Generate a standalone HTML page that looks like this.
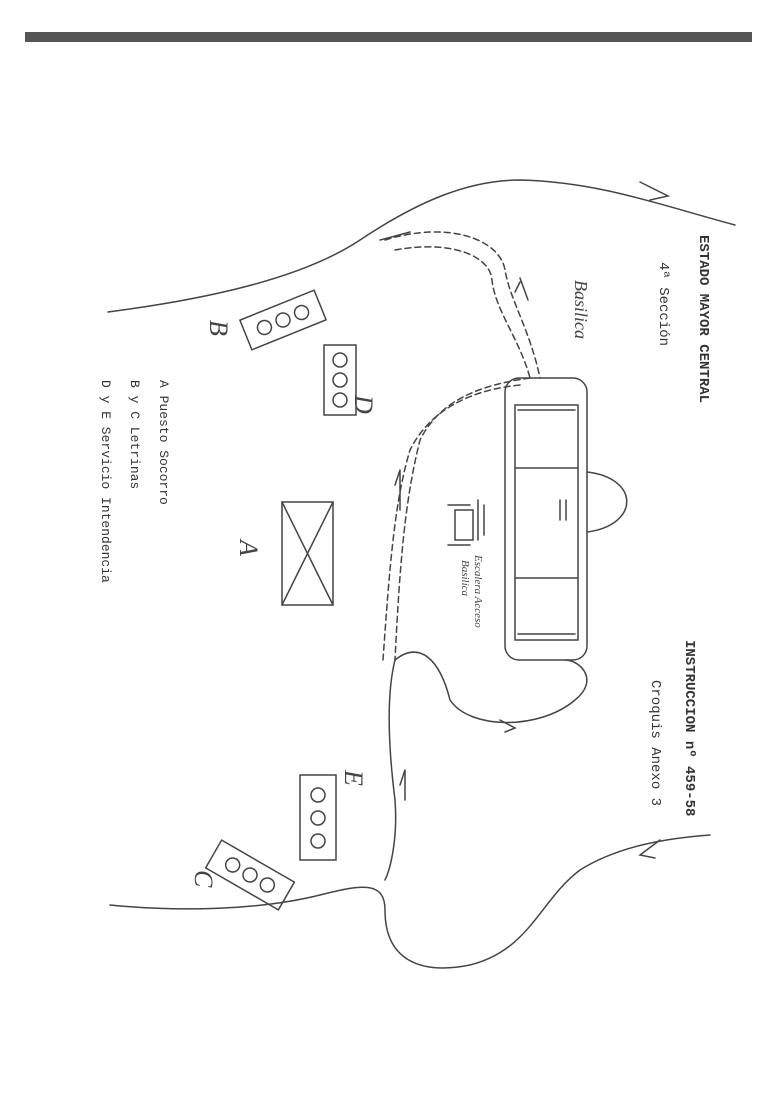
<!DOCTYPE html>
<html><head><meta charset="utf-8"><style>
html,body{margin:0;padding:0;background:#fff;}
body{width:768px;height:1093px;overflow:hidden;position:relative;}
.t{font-family:"Liberation Mono",monospace;fill:#333;}
</style></head><body>
<svg width="768" height="1093" viewBox="0 0 768 1093" xmlns="http://www.w3.org/2000/svg">
<rect x="0" y="0" width="768" height="1093" fill="#fff"/>
<rect x="25" y="32" width="727" height="10" fill="#555"/>
<g fill="none" stroke="#444" stroke-width="1.5" stroke-linecap="round">
<!-- top terrain -->
<path d="M108,312 C200,300 300,280 360,240 C420,200 470,180 520,180 C600,182 660,205 735,225"/>
<path d="M640,182 L668,196 L650,200"/>
<path d="M380,240 L410,232"/>
<!-- bottom terrain -->
<path d="M110,905 C180,912 260,910 320,895 C360,885 385,880 385,910 C385,960 420,975 470,965 C530,950 540,900 580,870 C620,845 670,838 710,835"/>
<path d="M660,840 L640,855 L655,858"/>
<!-- road dashed -->
<path d="M385,240 C450,220 500,240 505,270 C510,300 530,330 540,378" stroke-dasharray="6,4"/>
<path d="M395,250 C450,240 490,255 492,280 C495,310 520,340 530,378" stroke-dasharray="6,4"/>
<path d="M530,378 C480,385 440,400 420,440 C405,500 400,560 395,660" stroke-dasharray="6,4"/>
<path d="M520,385 C470,390 430,410 410,450 C395,500 390,560 383,660" stroke-dasharray="6,4"/>
<path d="M520,278 L528,300 M520,282 L515,292"/>
<path d="M400,470 L400,510 M400,470 L395,485"/>
<!-- loop under basilica -->
<path d="M395,660 C420,640 440,660 450,700 C470,730 540,730 575,700 C600,680 580,660 565,660"/>
<path d="M395,660 C385,700 390,760 395,800 C398,840 390,870 385,880"/>
<path d="M405,770 L405,800 M405,770 L400,785"/>
<path d="M500,720 L515,728 L505,732"/>
<!-- basilica -->
<rect x="505" y="378" width="82" height="282" rx="14"/>
<rect x="515" y="405" width="63" height="235"/>
<path d="M515,468 L578,468 M515,578 L578,578 M518,410 L575,410 M518,634 L575,634"/>
<path d="M587,472 C640,478 640,525 587,532"/>
<path d="M560,500 L560,520 M566,500 L566,520"/>
<!-- steps -->
<rect x="455" y="510" width="18" height="30"/>
<path d="M448,505 L470,505 M448,545 L470,545 M478,500 L478,540 M484,505 L484,535"/>
<!-- B -->
<g transform="translate(283,320) rotate(-22)"><rect x="-40" y="-16" width="80" height="32"/>
<circle cx="-20" cy="0" r="7"/><circle cx="0" cy="0" r="7"/><circle cx="20" cy="0" r="7"/></g>
<!-- D -->
<rect x="324" y="345" width="32" height="70"/>
<circle cx="340" cy="360" r="7"/><circle cx="340" cy="380" r="7"/><circle cx="340" cy="400" r="7"/>
<!-- A -->
<rect x="282" y="502" width="51" height="103"/>
<path d="M282,502 L333,605 M333,502 L282,605"/>
<!-- E -->
<rect x="300" y="775" width="36" height="85"/>
<circle cx="318" cy="795" r="7"/><circle cx="318" cy="818" r="7"/><circle cx="318" cy="841" r="7"/>
<!-- C -->
<g transform="translate(250,875) rotate(30)"><rect x="-42" y="-16" width="84" height="32"/>
<circle cx="-20" cy="0" r="7"/><circle cx="0" cy="0" r="7"/><circle cx="20" cy="0" r="7"/></g>
</g>
<!-- handwritten labels -->
<g font-family="Liberation Serif,serif" font-style="italic" fill="#444">
<text transform="translate(210,320) rotate(90)" font-size="26">B</text>
<text transform="translate(355,395) rotate(90)" font-size="26">D</text>
<text transform="translate(240,540) rotate(90)" font-size="26">A</text>
<text transform="translate(345,770) rotate(90)" font-size="26">E</text>
<text transform="translate(195,870) rotate(90)" font-size="26">C</text>
<text transform="translate(575,280) rotate(90)" font-size="18">Basilica</text>
<text transform="translate(475,555) rotate(90)" font-size="11">Escalera Acceso</text>
<text transform="translate(462,560) rotate(90)" font-size="11">Basilica</text>
</g>
<g class="t">
<text transform="translate(700,235) rotate(90)" font-size="14" font-weight="bold">ESTADO MAYOR CENTRAL</text>
<text transform="translate(660,262) rotate(90)" font-size="14">4ª Sección</text>
<text transform="translate(686,640) rotate(90)" font-size="14" font-weight="bold">INSTRUCCION  nº 459-58</text>
<text transform="translate(652,680) rotate(90)" font-size="14">Croquis Anexo  3</text>
<text transform="translate(160,380) rotate(90)" font-size="13">A  Puesto Socorro</text>
<text transform="translate(131,380) rotate(90)" font-size="13">B y C Letrinas</text>
<text transform="translate(102,380) rotate(90)" font-size="13">D y E  Servicio Intendencia</text>
</g>
</svg>
</body></html>
